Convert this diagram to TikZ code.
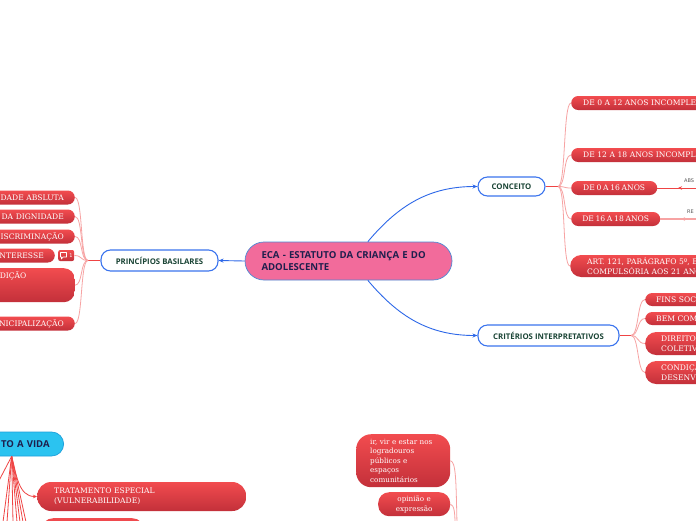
\documentclass[tikz,border=0pt]{standalone}
\usepackage{fontspec}
\setmainfont{DejaVu Serif}
\newfontfamily\hdfont{Open Sans}
\newfontfamily\lblfont{DejaVu Sans}
\usetikzlibrary{arrows.meta}
\definecolor{redtop}{HTML}{F24C4F}
\definecolor{redbot}{HTML}{C3303A}
\definecolor{pinkline}{HTML}{F7A3A3}
\definecolor{redline}{HTML}{EF4444}
\definecolor{blueline}{HTML}{2E68E8}
\definecolor{blueborder}{HTML}{3B74EE}
\definecolor{greentext}{HTML}{1B4536}
\definecolor{navytext}{HTML}{1F1F4D}
\definecolor{pinkfill}{HTML}{F26B9B}
\definecolor{pinkborder}{HTML}{4A8AD6}
\definecolor{cyanfill}{HTML}{2BC3F0}
\definecolor{cyanborder}{HTML}{1E9FDA}
\definecolor{lblgray}{HTML}{555555}
\tikzset{
  leaf/.style={draw=none, top color=redtop, bottom color=redbot, text=white,
    font=\fontsize{7.6}{10}\selectfont\spaceskip 1.7pt plus 0.3pt\relax, rounded corners=7pt,
    minimum height=14pt, inner xsep=11pt, inner ysep=0pt},
  softleaf/.style={leaf, font=\fontsize{7.2}{9.5}\selectfont},
  topic/.style={draw=blueborder, line width=1.1pt, fill=white, rounded corners=9.5pt,
    text=greentext, font=\hdfont\bfseries\fontsize{7.8}{9}\selectfont, inner sep=0pt},
  mainnode/.style={draw=pinkborder, line width=0.7pt, fill=pinkfill, rounded corners=19pt,
    minimum width=207pt, minimum height=38pt, text width=174pt, align=left,
    inner xsep=16.5pt, inner ysep=0pt, text=navytext,
    font=\hdfont\bfseries\fontsize{9.6}{11.5}\selectfont},
  vidanode/.style={draw=cyanborder, line width=0.7pt, fill=cyanfill, rounded corners=12pt,
    minimum height=24pt, text width=76pt, align=right, inner xsep=14pt, inner ysep=0pt,
    text=navytext, font=\hdfont\bfseries\fontsize{9.5}{11}\selectfont},
  bconn/.style={draw=blueline, line width=0.9pt, -{Stealth[length=5pt,width=4pt]}},
  stub/.style={draw=redline, line width=1.6pt},
  twig/.style={draw=pinkline, line width=0.8pt},
  fan/.style={draw=redline, line width=0.8pt},
  relred/.style={draw=redline, line width=0.9pt},
  relpink/.style={draw=pinkline, line width=1.1pt},
  lbl/.style={text=lblgray, font=\lblfont\fontsize{5}{6}\selectfont, inner sep=0pt}
}
\begin{document}
\begin{tikzpicture}[x=1pt,y=-1pt]
\useasboundingbox (0,0) rectangle (696,520);
\clip (0,0) rectangle (696,520);
\fill[white] (0,0) rectangle (696,520);

% ---------- main topics
\node[mainnode] (eca) at (348.5,261) {ECA - ESTATUTO DA CRIANÇA E DO\\ADOLESCENTE};
\node[topic, minimum width=117pt, minimum height=21pt] (princ) at (159.5,260.5) {PRINCÍPIOS BASILARES};
\node[topic, minimum width=67pt, minimum height=19pt] (conc) at (511.5,186.5) {CONCEITO};
\node[topic, minimum width=141pt, minimum height=21pt] (crit) at (548.5,335.5) {CRITÉRIOS INTERPRETATIVOS};

\draw[bconn] (eca.west) -- (princ.east);
\draw[bconn] (eca.45) to[out=50,in=180] (conc.west);
\draw[bconn] (eca.-45) to[out=-50,in=180] (crit.west);

% ---------- left leaves (princípios)
\node[leaf, anchor=east, text width=90pt, align=right] (l1) at (75,197.5) {IDADE ABSLUTA};
\node[leaf, anchor=east, text width=90pt, align=right] (l2) at (75,216.5) {DA DIGNIDADE};
\node[leaf, anchor=east, text width=90pt, align=right] (l3) at (75,236.5) {ISCRIMINAÇÃO};
\node[leaf, anchor=east, text width=90pt, align=right] (l4) at (55,255.5) {INTERESSE};
\node[leaf, anchor=west, minimum width=16pt, minimum height=11pt, rounded corners=2pt, inner xsep=0pt] (badge) at (58,255.5) {};
\draw[white, line width=0.6pt, line join=round] (60.5,252.5) -- (66.5,252.5) -- (66.5,257) -- (63,257) -- (61.5,259) -- (61.5,257) -- (60.5,257) -- cycle;
\node[lbl, text=white] (badgenum) at (71,255.5) {1};
\node[leaf, anchor=north east, text width=64pt, align=left, minimum height=34pt, rounded corners=11pt, inner ysep=3pt] (l5) at (75,268) {DIÇÃO\\~\\~};
\node[leaf, anchor=east, text width=90pt, align=right] (l6) at (75,323.5) {NICIPALIZAÇÃO};

\coordinate (pj) at (88,260.5);
\draw[stub] (princ.west) -- (pj);
\foreach \n in {l1,l2,l3,badge,l5,l6}
  \draw[twig] (pj) to[out=180,in=0,distance=8pt] (\n.east);

% ---------- conceito leaves
\node[leaf, anchor=west, text width=150pt, align=left, inner xsep=12pt] (c1) at (571,103) {DE 0 A 12 ANOS INCOMPLETOS};
\node[leaf, anchor=west, text width=150pt, align=left, inner xsep=12pt] (c2) at (571,155) {DE 12 A 18 ANOS INCOMPLETOS};
\node[leaf, anchor=west, minimum width=86pt, inner xsep=8pt] (c3) at (571,188) {DE 0 A 16 ANOS};
\node[leaf, anchor=west, minimum width=89pt, inner xsep=8pt] (c4) at (571,219) {DE 16 A 18 ANOS};
\node[leaf, anchor=west, text width=150pt, align=left, inner xsep=17pt, minimum height=22pt, rounded corners=11pt] (c5) at (570,266) {ART. 121, PARÁGRAFO 5º, ECA\\COMPULSÓRIA AOS 21 ANOS};

\coordinate (cj) at (558,186.5);
\draw[stub] (conc.east) -- (cj);
\foreach \n in {c1,c2,c3,c4,c5}
  \draw[twig] (cj) to[out=0,in=180,distance=8pt] (\n.west);

\coordinate (absend) at (700,188);
\coordinate (absmid) at (678,188);
\draw[relred] (absend) -- (c3.east);
\draw[relred, -{Stealth[length=4pt,width=3.5pt]}] (absend) -- (absmid);
\node[lbl, anchor=west] (abs) at (684,181) {ABS};
\coordinate (reend) at (700,219);
\coordinate (remid) at (681,219);
\draw[relpink] (reend) -- (c4.east);
\draw[relpink, -{Stealth[length=4pt,width=3.5pt]}] (reend) -- (remid);
\node[lbl, anchor=west] (re) at (687,212) {RE};

% ---------- critérios leaves
\node[leaf, anchor=west, text width=80pt, align=left, minimum height=13pt] (k1) at (645,299.5) {FINS SOCIAIS};
\node[leaf, anchor=west, text width=80pt, align=left, minimum height=13pt] (k2) at (645,318.5) {BEM COMUM};
\node[leaf, anchor=west, text width=80pt, align=left, inner xsep=16pt, minimum height=23pt, rounded corners=11pt] (k3) at (645,343.5) {DIREITOS\\COLETIVOS};
\node[leaf, anchor=west, text width=80pt, align=left, inner xsep=16pt, minimum height=23pt, rounded corners=11pt] (k4) at (645,372.5) {CONDIÇÃO\\DESENVOLVIMENTO};

\coordinate (kj) at (631,335.5);
\draw[stub] (crit.east) -- (kj);
\foreach \n in {k1,k2,k3,k4}
  \draw[twig] (kj) to[out=0,in=180,distance=8pt] (\n.west);

% ---------- bottom left
\node[vidanode, anchor=east] (vida) at (64,444) {TO A VIDA};
\node[leaf, anchor=west, text width=175pt, align=left, inner xsep=17pt, minimum height=29pt, rounded corners=14pt] (t1) at (37,496.5) {TRATAMENTO ESPECIAL\\(VULNERABILIDADE)};
\node[leaf, anchor=north west, minimum width=103pt, minimum height=28pt, rounded corners=12pt] (t2) at (41,518) {};

\coordinate (f1) at (-8,494);
\coordinate (f2) at (3,522);
\coordinate (f3) at (7,522);
\coordinate (f4) at (13,522);
\coordinate (f5) at (17,522);
\coordinate (f6) at (20,522);
\coordinate (f7) at (23,522);
\coordinate (f8) at (26,522);
\foreach \p in {f1,f2,f3,f4,f5,f6,f7,f8}
  \draw[fan] (vida.south) -- (\p);
\draw[fan, -{Stealth[length=4pt,width=3.5pt]}] (vida.south) to[out=-75,in=180] (t1.west);

% ---------- bottom middle
\node[softleaf, anchor=north west, text width=66pt, align=left, inner xsep=14pt, minimum width=94pt, minimum height=53pt, rounded corners=15pt] (b1) at (356,434) {ir, vir e estar nos\\logradouros\\públicos e\\espaços\\comunitários};
\node[softleaf, anchor=north west, text width=52pt, align=center, inner xsep=10pt, minimum height=24pt, rounded corners=11pt] (b2) at (378,492) {opinião e\\expressão};
\coordinate (bd1) at (457,524);
\coordinate (bd2) at (455,524);
\draw[twig] (b1.east) .. controls (456,462) and (456,480) .. (bd1);
\draw[twig] (b2.east) .. controls (454,505) and (455,512) .. (bd2);
\end{tikzpicture}
\end{document}
